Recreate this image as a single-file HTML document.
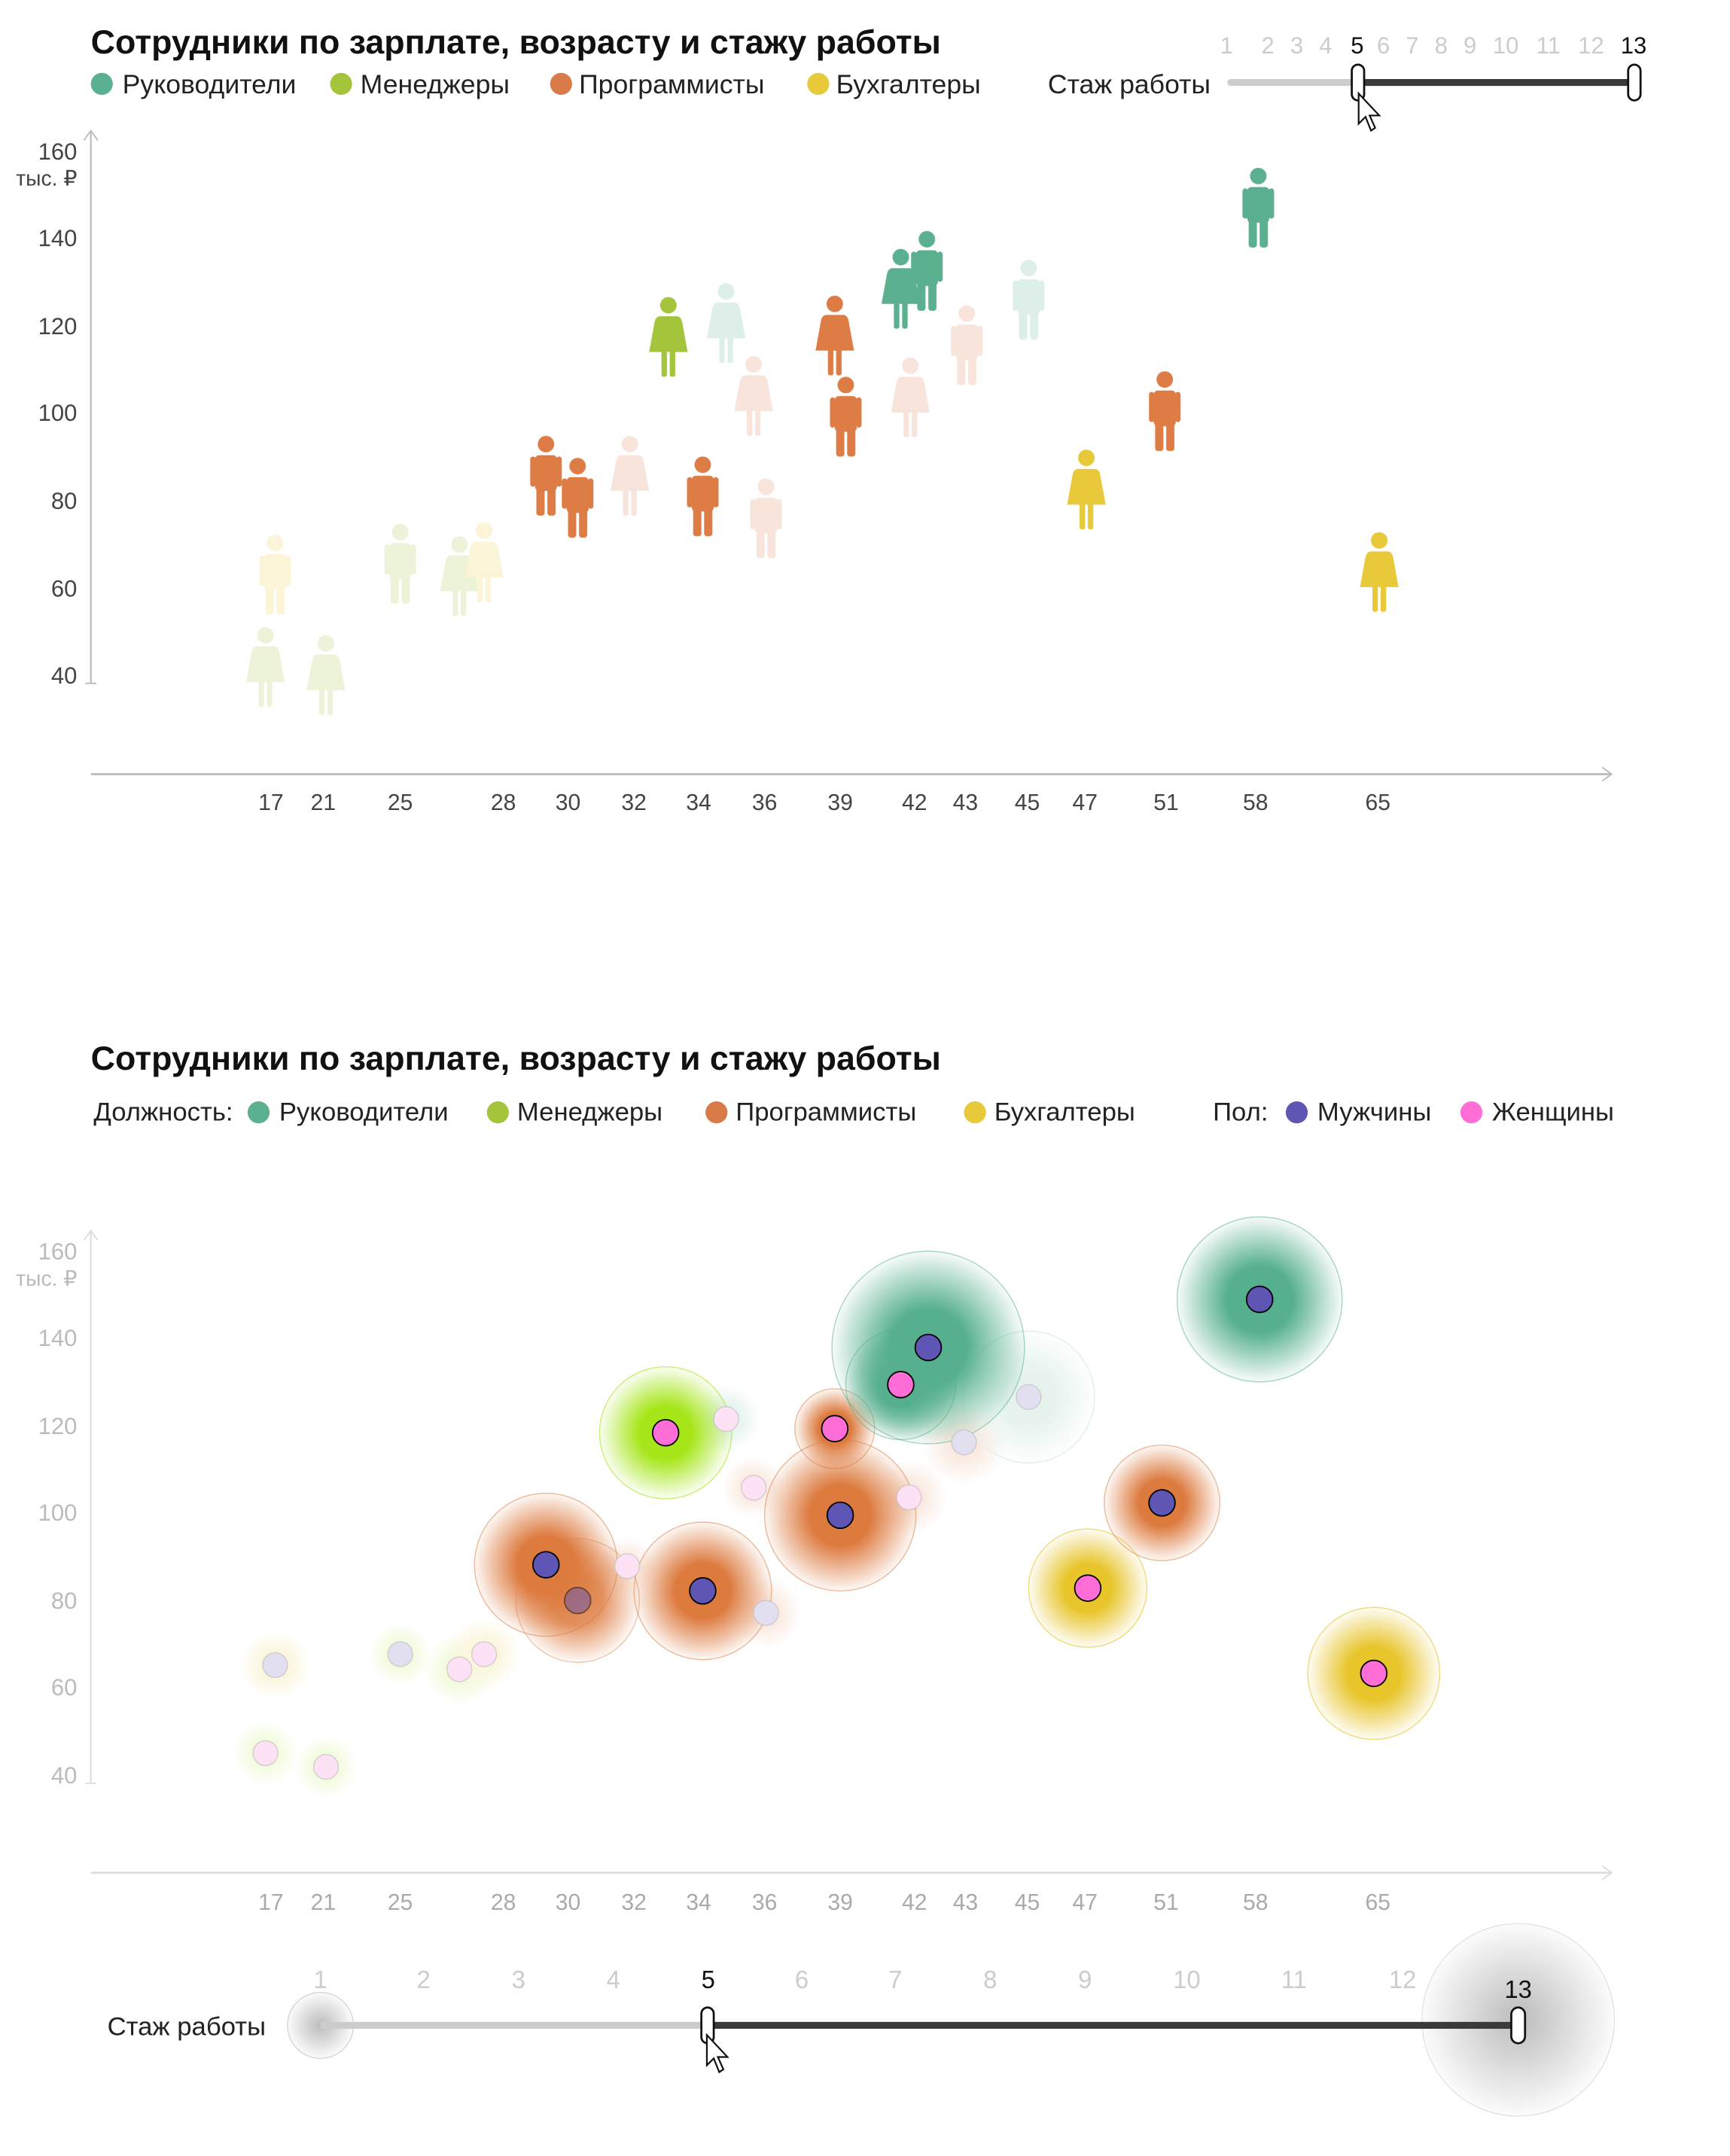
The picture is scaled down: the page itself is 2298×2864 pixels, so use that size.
<!DOCTYPE html>
<html><head><meta charset="utf-8"><style>
html,body{margin:0;padding:0;background:#fff;}
svg{display:block;}
text{font-family:"Liberation Sans",sans-serif;}
</style></head><body>
<svg width="2298" height="2864" viewBox="0 0 1258 1568" xmlns="http://www.w3.org/2000/svg">
<defs>
<g id="m"><circle cx="0" cy="6" r="6"/><rect x="-8" y="14" width="16" height="26" rx="3"/><rect x="-11.5" y="15" width="4" height="22" rx="2"/><rect x="7.5" y="15" width="4" height="22" rx="2"/><rect x="-7" y="36" width="6" height="22" rx="2"/><rect x="1" y="36" width="6" height="22" rx="2"/></g>
<g id="f"><circle cx="0" cy="6" r="6"/><path d="M-6,14 L6,14 Q9,14 10,18 L14,40 L-14,40 L-10,18 Q-9,14 -6,14Z"/><rect x="-5" y="38" width="4" height="20" rx="1.5"/><rect x="1" y="38" width="4" height="20" rx="1.5"/></g>
<radialGradient id="gT"><stop offset="0" stop-color="#56b08e"/><stop offset="0.4" stop-color="#56b08e"/><stop offset="1" stop-color="#56b08e" stop-opacity="0.05"/></radialGradient>
<radialGradient id="gG"><stop offset="0" stop-color="#a6e619"/><stop offset="0.4" stop-color="#a6e619"/><stop offset="1" stop-color="#a6e619" stop-opacity="0.05"/></radialGradient>
<radialGradient id="gO"><stop offset="0" stop-color="#dd7a3e"/><stop offset="0.4" stop-color="#dd7a3e"/><stop offset="1" stop-color="#dd7a3e" stop-opacity="0.05"/></radialGradient>
<radialGradient id="gY"><stop offset="0" stop-color="#e8c52b"/><stop offset="0.4" stop-color="#e8c52b"/><stop offset="1" stop-color="#e8c52b" stop-opacity="0.05"/></radialGradient>
<radialGradient id="gK"><stop offset="0" stop-color="#bbb"/><stop offset="1" stop-color="#bbb" stop-opacity="0.05"/></radialGradient>
</defs>

<!-- TOP CHART -->
<text x="66" y="39" font-size="24.5" font-weight="bold" fill="#111">Сотрудники по зарплате, возрасту и стажу работы</text>
<g font-size="19.5" fill="#222">
<circle cx="74" cy="61" r="8" fill="#5bb08f"/><text x="89" y="68">Руководители</text>
<circle cx="248" cy="61" r="8" fill="#a4c43c"/><text x="262" y="68">Менеджеры</text>
<circle cx="408" cy="61" r="8" fill="#d97b48"/><text x="421" y="68">Программисты</text>
<circle cx="595" cy="61" r="8" fill="#e8c93a"/><text x="608" y="68">Бухгалтеры</text>
<text x="762" y="68">Стаж работы</text>
</g>
<g font-size="17" fill="#ccc" text-anchor="middle">
<text x="892" y="39">1</text><text x="922" y="39">2</text><text x="943" y="39">3</text><text x="964" y="39">4</text><text x="987" y="39" fill="#111">5</text><text x="1006" y="39">6</text><text x="1027" y="39">7</text><text x="1048" y="39">8</text><text x="1069" y="39">9</text><text x="1095" y="39">10</text><text x="1126" y="39">11</text><text x="1157" y="39">12</text><text x="1188" y="39" fill="#111">13</text>
</g>
<line x1="895" y1="60" x2="987" y2="60" stroke="#ccc" stroke-width="5" stroke-linecap="round"/>
<line x1="987" y1="60" x2="1188" y2="60" stroke="#3a3a3a" stroke-width="5"/>
<rect x="983" y="47" width="9" height="26" rx="4.5" fill="#fff" stroke="#111" stroke-width="1.5"/>
<rect x="1184" y="47" width="9" height="26" rx="4.5" fill="#fff" stroke="#111" stroke-width="1.5"/>
<path d="M988,68 L988,90 L993,85 L997,95 L1000,93 L996,84 L1003,84 Z" fill="#fff" stroke="#111" stroke-width="1.2"/>

<line x1="66" y1="95" x2="66" y2="497" stroke="#bbb" stroke-width="1.2"/>
<path d="M61,102 L66,95 L71,102" fill="none" stroke="#bbb"/>
<line x1="62" y1="497" x2="70" y2="497" stroke="#bbb"/>
<g font-size="17" fill="#444" text-anchor="end">
<text x="56" y="116">160</text><text x="56" y="135" font-size="15.5">тыс. ₽</text><text x="56" y="179">140</text><text x="56" y="243">120</text><text x="56" y="306">100</text><text x="56" y="370">80</text><text x="56" y="434">60</text><text x="56" y="497">40</text>
</g>
<line x1="66" y1="563" x2="1172" y2="563" stroke="#bbb" stroke-width="1.5"/>
<path d="M1165,558 L1172,563 L1165,568" fill="none" stroke="#bbb"/>
<g font-size="16.5" fill="#444" text-anchor="middle">
<text x="197" y="589">17</text><text x="235" y="589">21</text><text x="291" y="589">25</text><text x="366" y="589">28</text><text x="413" y="589">30</text><text x="461" y="589">32</text><text x="508" y="589">34</text><text x="556" y="589">36</text><text x="611" y="589">39</text><text x="665" y="589">42</text><text x="702" y="589">43</text><text x="747" y="589">45</text><text x="789" y="589">47</text><text x="848" y="589">51</text><text x="913" y="589">58</text><text x="1002" y="589">65</text>
</g>
<!-- figures -->
<g opacity="0.2">
<use href="#f" x="193" y="456" fill="#a4c43c"/>
<use href="#m" x="200" y="389" fill="#e8c93a"/>
<use href="#f" x="237" y="462" fill="#a4c43c"/>
<use href="#m" x="291" y="381" fill="#a4c43c"/>
<use href="#f" x="334" y="390" fill="#a4c43c"/>
<use href="#f" x="352" y="380" fill="#e8c93a"/>
<use href="#f" x="458" y="317" fill="#d97b48"/>
<use href="#f" x="528" y="206" fill="#5bb08f"/>
<use href="#f" x="548" y="259" fill="#d97b48"/>
<use href="#m" x="557" y="348" fill="#d97b48"/>
<use href="#f" x="662" y="260" fill="#d97b48"/>
<use href="#m" x="703" y="222" fill="#d97b48"/>
<use href="#m" x="748" y="189" fill="#5bb08f"/>
</g>
<use href="#m" x="397" y="317" fill="#dd7d45"/>
<use href="#m" x="420" y="333" fill="#dd7d45"/>
<use href="#f" x="486" y="216" fill="#a4c43c"/>
<use href="#m" x="511" y="332" fill="#dd7d45"/>
<use href="#f" x="607" y="215" fill="#dd7d45"/>
<use href="#m" x="615" y="274" fill="#dd7d45"/>
<use href="#f" x="655" y="181" fill="#5bb08f"/>
<use href="#m" x="674" y="168" fill="#5bb08f"/>
<use href="#f" x="790" y="327" fill="#e8c93a"/>
<use href="#m" x="847" y="270" fill="#dd7d45"/>
<use href="#m" x="915" y="122" fill="#5bb08f"/>
<use href="#f" x="1003" y="387" fill="#e8c93a"/>

<!-- BOTTOM CHART -->
<text x="66" y="778" font-size="24.5" font-weight="bold" fill="#111">Сотрудники по зарплате, возрасту и стажу работы</text>
<g font-size="19" fill="#222">
<text x="68" y="815">Должность:</text>
<circle cx="188" cy="809" r="8" fill="#5bb08f"/><text x="203" y="815">Руководители</text>
<circle cx="362" cy="809" r="8" fill="#a4c43c"/><text x="376" y="815">Менеджеры</text>
<circle cx="521" cy="809" r="8" fill="#d97b48"/><text x="535" y="815">Программисты</text>
<circle cx="709" cy="809" r="8" fill="#e8c93a"/><text x="723" y="815">Бухгалтеры</text>
<text x="882" y="815">Пол:</text>
<circle cx="943" cy="809" r="8" fill="#5f55b5"/><text x="958" y="815">Мужчины</text>
<circle cx="1070" cy="809" r="8" fill="#ff6ed6"/><text x="1085" y="815">Женщины</text>
</g>
<line x1="66" y1="895" x2="66" y2="1297" stroke="#ddd" stroke-width="1.2"/>
<path d="M61,902 L66,895 L71,902" fill="none" stroke="#ddd"/>
<line x1="62" y1="1297" x2="70" y2="1297" stroke="#ddd"/>
<g font-size="17" fill="#bbb" text-anchor="end">
<text x="56" y="916">160</text><text x="56" y="935" font-size="15.5">тыс. ₽</text><text x="56" y="979">140</text><text x="56" y="1043">120</text><text x="56" y="1106">100</text><text x="56" y="1170">80</text><text x="56" y="1233">60</text><text x="56" y="1297">40</text>
</g>
<line x1="66" y1="1362" x2="1172" y2="1362" stroke="#ddd" stroke-width="1.5"/>
<path d="M1165,1357 L1172,1362 L1165,1367" fill="none" stroke="#ddd"/>
<g font-size="16.5" fill="#aaa" text-anchor="middle">
<text x="197" y="1389">17</text><text x="235" y="1389">21</text><text x="291" y="1389">25</text><text x="366" y="1389">28</text><text x="413" y="1389">30</text><text x="461" y="1389">32</text><text x="508" y="1389">34</text><text x="556" y="1389">36</text><text x="611" y="1389">39</text><text x="665" y="1389">42</text><text x="702" y="1389">43</text><text x="747" y="1389">45</text><text x="789" y="1389">47</text><text x="848" y="1389">51</text><text x="913" y="1389">58</text><text x="1002" y="1389">65</text>
</g>
<!-- faded bubbles -->
<g opacity="0.15">
<circle cx="193" cy="1275" r="23" fill="url(#gG)"/>
<circle cx="200" cy="1211" r="25" fill="url(#gY)"/>
<circle cx="237" cy="1285" r="22" fill="url(#gG)"/>
<circle cx="291" cy="1203" r="22" fill="url(#gG)"/>
<circle cx="334" cy="1214" r="25" fill="url(#gG)"/>
<circle cx="352" cy="1203" r="26" fill="url(#gY)"/>
<circle cx="456" cy="1139" r="20" fill="url(#gO)"/>
<circle cx="528" cy="1032" r="24" fill="url(#gT)"/>
<circle cx="548" cy="1082" r="22" fill="url(#gO)"/>
<circle cx="557" cy="1173" r="25" fill="url(#gO)"/>
<circle cx="661" cy="1089" r="27" fill="url(#gO)"/>
<circle cx="701" cy="1049" r="30" fill="url(#gO)"/>
<circle cx="748" cy="1016" r="48" fill="url(#gT)" stroke="#56b08e"/>
</g>
<g stroke-width="0.8">
<circle cx="397" cy="1138" r="52" fill="url(#gO)" stroke="#dd7a3e" stroke-opacity="0.5"/>
<circle cx="420" cy="1164" r="45" fill="url(#gO)" stroke="#dd7a3e" stroke-opacity="0.5" opacity="0.8"/>
<circle cx="484" cy="1042" r="48" fill="url(#gG)" stroke="#a6e619" stroke-opacity="0.6"/>
<circle cx="511" cy="1157" r="50" fill="url(#gO)" stroke="#dd7a3e" stroke-opacity="0.5"/>
<circle cx="611" cy="1102" r="55" fill="url(#gO)" stroke="#dd7a3e" stroke-opacity="0.5"/>
<circle cx="607" cy="1039" r="29" fill="url(#gO)" stroke="#dd7a3e" stroke-opacity="0.5"/>
<circle cx="675" cy="980" r="70" fill="url(#gT)" stroke="#56b08e" stroke-opacity="0.5"/>
<circle cx="655" cy="1007" r="40" fill="url(#gT)" stroke="#56b08e" stroke-opacity="0.5"/>
<circle cx="791" cy="1155" r="43" fill="url(#gY)" stroke="#e8c52b" stroke-opacity="0.6"/>
<circle cx="845" cy="1093" r="42" fill="url(#gO)" stroke="#dd7a3e" stroke-opacity="0.5"/>
<circle cx="916" cy="945" r="60" fill="url(#gT)" stroke="#56b08e" stroke-opacity="0.5"/>
<circle cx="999" cy="1217" r="48" fill="url(#gY)" stroke="#e8c52b" stroke-opacity="0.6"/>
</g>
<!-- faded dots -->
<g stroke="#bbb" stroke-opacity="0.6" stroke-width="0.8">
<circle cx="193" cy="1275" r="9" fill="#fde2f6"/>
<circle cx="200" cy="1211" r="9" fill="#e2dff0"/>
<circle cx="237" cy="1285" r="9" fill="#fde2f6"/>
<circle cx="291" cy="1203" r="9" fill="#e2dff0"/>
<circle cx="334" cy="1214" r="9" fill="#fde2f6"/>
<circle cx="352" cy="1203" r="9" fill="#fde2f6"/>
<circle cx="456" cy="1139" r="9" fill="#fde2f6"/>
<circle cx="528" cy="1032" r="9" fill="#fde2f6"/>
<circle cx="548" cy="1082" r="9" fill="#fde2f6"/>
<circle cx="557" cy="1173" r="9" fill="#e2dff0"/>
<circle cx="661" cy="1089" r="9" fill="#fde2f6"/>
<circle cx="701" cy="1049" r="9" fill="#e2dff0"/>
<circle cx="748" cy="1016" r="9" fill="#e2dff0"/>
</g>
<g stroke="#000" stroke-width="1">
<circle cx="397" cy="1138" r="9.5" fill="#5f55b5"/>
<circle cx="420" cy="1164" r="9.5" fill="#5f55b5" opacity="0.5"/>
<circle cx="484" cy="1042" r="9.5" fill="#ff6ed6"/>
<circle cx="511" cy="1157" r="9.5" fill="#5f55b5"/>
<circle cx="607" cy="1039" r="9.5" fill="#ff6ed6"/>
<circle cx="611" cy="1102" r="9.5" fill="#5f55b5"/>
<circle cx="655" cy="1007" r="9.5" fill="#ff6ed6"/>
<circle cx="675" cy="980" r="9.5" fill="#5f55b5"/>
<circle cx="791" cy="1155" r="9.5" fill="#ff6ed6"/>
<circle cx="845" cy="1093" r="9.5" fill="#5f55b5"/>
<circle cx="916" cy="945" r="9.5" fill="#5f55b5"/>
<circle cx="999" cy="1217" r="9.5" fill="#ff6ed6"/>
</g>

<!-- bottom slider -->
<text x="78" y="1480" font-size="19" fill="#222">Стаж работы</text>
<circle cx="233" cy="1473" r="24" fill="url(#gK)" stroke="#ccc" stroke-width="0.6"/>
<circle cx="1104" cy="1469" r="70" fill="url(#gK)" stroke="#ddd" stroke-width="0.6"/>
<g font-size="18" fill="#ccc" text-anchor="middle">
<text x="233" y="1446">1</text><text x="308" y="1446">2</text><text x="377" y="1446">3</text><text x="446" y="1446">4</text><text x="515" y="1446" fill="#111">5</text><text x="583" y="1446">6</text><text x="651" y="1446">7</text><text x="720" y="1446">8</text><text x="789" y="1446">9</text><text x="863" y="1446">10</text><text x="941" y="1446">11</text><text x="1020" y="1446">12</text><text x="1104" y="1453" fill="#111">13</text>
</g>
<line x1="233" y1="1473" x2="515" y2="1473" stroke="#ccc" stroke-width="5"/>
<line x1="515" y1="1473" x2="1104" y2="1473" stroke="#3a3a3a" stroke-width="5"/>
<rect x="510" y="1460" width="9" height="26" rx="4.5" fill="#fff" stroke="#111" stroke-width="1.5"/>
<rect x="1099" y="1460" width="10" height="26" rx="5" fill="#fff" stroke="#111" stroke-width="1.5"/>
<path d="M514,1480 L514,1502 L519,1497 L523,1507 L526,1505 L522,1496 L529,1496 Z" fill="#fff" stroke="#111" stroke-width="1.2"/>
</svg>
</body></html>
